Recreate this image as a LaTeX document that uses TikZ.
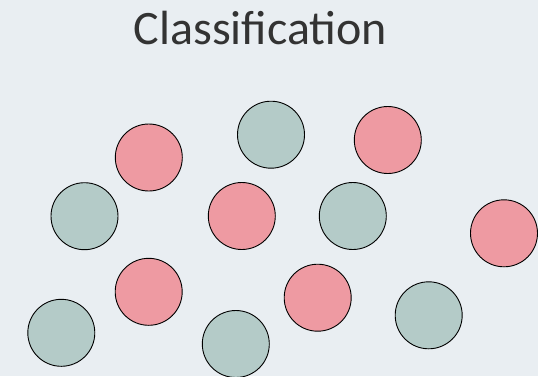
\documentclass[tikz,border=0pt]{standalone}
\usepackage{fontspec}
\setmainfont{Carlito}
\definecolor{bgc}{HTML}{E9EEF2}
\definecolor{pinkc}{HTML}{EE9AA2}
\definecolor{grayc}{HTML}{B4CBC8}
\definecolor{txtc}{HTML}{333333}
\begin{document}
\begin{tikzpicture}[x=1pt,y=-1pt,
  dot/.style={circle,draw=black,line width=0.9pt,minimum size=67pt,inner sep=0pt},
  pk/.style={dot,fill=pinkc},
  gy/.style={dot,fill=grayc}]
\fill[bgc] (0,0) rectangle (538,376);
\useasboundingbox (0,0) rectangle (538,376);
\node[text=txtc,font=\fontsize{48}{56}\selectfont,anchor=base] (title) at (260.5,44.3) {Classification};
\node[pk] (p1) at (148.8,157.5) {};
\node[gy] (g2) at (271,134.7) {};
\node[pk] (p3) at (387.8,140) {};
\node[gy] (g4) at (84.5,216.2) {};
\node[pk] (p5) at (241.8,216) {};
\node[gy] (g6) at (352.8,216) {};
\node[pk] (p7) at (504,233.3) {};
\node[pk] (p8) at (148.7,291.8) {};
\node[pk] (p9) at (317.7,297.7) {};
\node[gy] (g10) at (61.3,332.8) {};
\node[gy] (g11) at (235.8,344) {};
\node[gy] (g12) at (428.7,315.3) {};
\end{tikzpicture}
\end{document}
